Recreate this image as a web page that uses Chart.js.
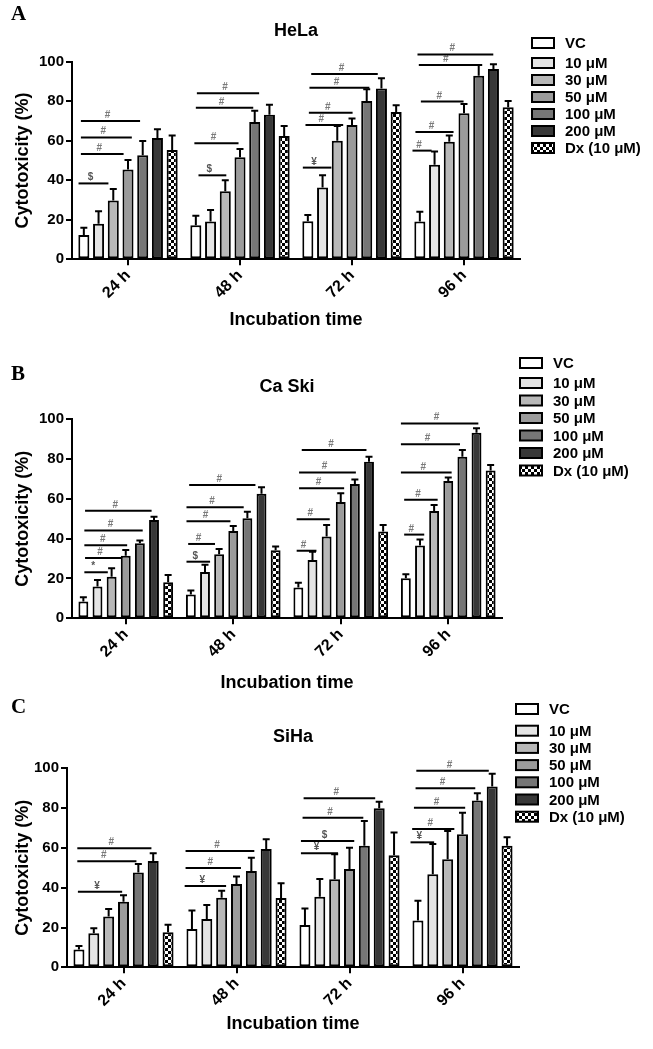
<!DOCTYPE html>
<html>
<head>
<meta charset="utf-8">
<script src="https://cdn.jsdelivr.net/npm/chart.js@4.4.1/dist/chart.umd.min.js"></script>
<style>
  body { margin: 0; background: #fff; width: 653px; height: 1049px; position: relative; overflow: hidden; }
  canvas { position: absolute; left: 0; }
</style>
</head>
<body>
<canvas id="chart-hela" width="653" height="340" style="top:0px"></canvas>
<canvas id="chart-caski" width="653" height="360" style="top:340px"></canvas>
<canvas id="chart-siha" width="653" height="359" style="top:690px"></canvas>
<script>
// categories and series
const times = ['24 h', '48 h', '72 h', '96 h'];
const seriesNames = ['VC', '10 μM', '30 μM', '50 μM', '100 μM', '200 μM', 'Dx (10 μM)'];
const yTicks = [0, 20, 40, 60, 80, 100];

// HeLa: one row per series (VC ... Dx), one column per time
const helaMean = [
  [12.3, 17.2, 19.2, 19.1],
  [18.0, 19.1, 36.3, 47.9],
  [29.8, 34.4, 60.0, 59.5],
  [45.5, 51.6, 68.0, 73.9],
  [52.6, 69.5, 80.1, 92.9],
  [61.4, 73.2, 86.5, 96.3],
  [55.3, 62.4, 74.5, 76.9]
];
const helaErr = [
  [3.7, 4.9, 3.2, 5.0],
  [6.3, 5.9, 6.2, 6.6],
  [5.8, 5.6, 7.5, 3.1],
  [4.8, 4.2, 3.2, 4.7],
  [7.3, 5.7, 5.9, 5.4],
  [4.4, 5.0, 5.1, 2.4],
  [7.4, 5.1, 3.4, 3.2]
];
// [time index, from series, to series, height, symbol]
const helaSig = [
  [0, -0.36, 1.67, 38.4, '$'], [0, -0.2, 2.7, 53.3, '#'], [0, -0.2, 3.26, 61.7, '#'], [0, -0.2, 3.82, 70, '#'],
  [1, 0.18, 2.07, 42.5, '$'], [1, -0.1, 2.9, 58.7, '#'], [1, 0, 3.9, 76.7, '#'], [1, 0.07, 4.3, 84, '#'],
  [2, -0.34, 1.6, 46.4, '¥'], [2, -0.16, 2.4, 68, '#'], [2, 0.07, 3.04, 74.2, '#'], [2, 0.11, 4.18, 86.8, '#'], [2, 0.23, 4.75, 93.8, '#'],
  [3, -0.5, 0.8, 55, '#'], [3, -0.3, 2.29, 64.4, '#'], [3, 0.07, 2.97, 79.8, '#'], [3, -0.07, 4.0, 98.3, '#'], [3, -0.16, 4.99, 103.7, '#']
];

// Ca Ski
const caskiMean = [
  [8.4, 12.0, 15.4, 20.1],
  [15.9, 23.2, 29.3, 36.5],
  [20.9, 32.1, 41.0, 53.8],
  [31.4, 43.8, 58.4, 68.9],
  [37.6, 50.2, 67.4, 81.1],
  [49.3, 62.5, 78.6, 93.1],
  [18.1, 34.1, 43.6, 74.1]
];
const caskiErr = [
  [2.1, 1.9, 2.5, 2.0],
  [3.3, 3.7, 4.1, 3.1],
  [4.2, 2.7, 5.8, 3.1],
  [2.9, 2.5, 4.3, 1.8],
  [1.4, 3.3, 2.3, 3.3],
  [1.7, 3.2, 2.5, 2.2],
  [3.6, 1.9, 3.2, 2.8]
];
const caskiSig = [
  [0, 0.07, 1.73, 23.1, '*'], [0, 0.12, 2.68, 30.3, '#'], [0, 0.07, 3.1, 36.6, '#'], [0, 0.07, 4.2, 44.1, '#'], [0, 0.12, 4.83, 54.0, '#'],
  [1, -0.31, 1.36, 28.4, '$'], [1, -0.19, 1.71, 37.3, '#'], [1, -0.31, 2.8, 48.7, '#'], [1, -0.31, 3.74, 55.7, '#'], [1, -0.12, 4.57, 66.9, '#'],
  [2, -0.12, 1.28, 33.9, '#'], [2, -0.12, 2.22, 49.7, '#'], [2, 0.05, 3.24, 65.2, '#'], [2, 0.05, 4.07, 73.2, '#'], [2, 0.24, 4.82, 84.4, '#'],
  [3, -0.12, 1.3, 42.0, '#'], [3, -0.12, 2.25, 59.5, '#'], [3, -0.35, 3.24, 73.1, '#'], [3, -0.35, 3.83, 87.3, '#'], [3, -0.35, 5.13, 97.8, '#']
];

// SiHa
const sihaMean = [
  [9.0, 19.3, 21.3, 23.5],
  [17.1, 24.3, 35.5, 46.7],
  [25.5, 35.0, 44.2, 54.3],
  [33.0, 41.9, 49.4, 66.8],
  [47.7, 48.4, 61.1, 83.8],
  [53.4, 59.5, 79.9, 90.8],
  [17.6, 34.8, 56.3, 61.1]
];
const sihaErr = [
  [1.7, 9.2, 8.3, 10.0],
  [2.5, 7.0, 8.9, 15.3],
  [3.8, 3.5, 12.6, 14.2],
  [3.2, 3.7, 10.7, 10.9],
  [4.2, 6.7, 12.4, 3.6],
  [3.9, 4.8, 3.3, 6.4],
  [3.8, 7.4, 11.4, 4.2]
];
const sihaSig = [
  [0, -0.07, 2.91, 38.0, '¥'], [0, -0.11, 3.87, 53.3, '#'], [0, -0.11, 4.88, 59.8, '#'],
  [1, -0.49, 2.3, 40.9, '¥'], [1, -0.43, 3.3, 49.9, '#'], [1, -0.43, 4.2, 58.5, '#'],
  [2, -0.27, 2.23, 57.3, '¥'], [2, -0.27, 3.32, 63.5, '$'], [2, -0.16, 3.93, 75.2, '#'], [2, -0.09, 4.73, 84.9, '#'],
  [3, -0.5, 1.09, 62.8, '¥'], [3, -0.39, 2.45, 69.5, '#'], [3, -0.27, 3.18, 80.2, '#'], [3, -0.16, 3.86, 90.0, '#'], [3, -0.11, 4.77, 98.8, '#']
];

const sansFont = 'Arial, "Liberation Sans", sans-serif';
const serifFont = '"Times New Roman", "Liberation Serif", serif';

function checkerPattern() {
    var c = document.createElement('canvas');
    c.width = 6;
    c.height = 6;
    var g = c.getContext('2d');
    g.fillStyle = '#000';
    g.fillRect(0, 0, 6, 6);
    g.fillStyle = '#fff';
    g.fillRect(0, 0, 3, 3);
    g.fillRect(3, 3, 3, 3);
    return g.createPattern(c, 'repeat');
}

const seriesColors = ['#ffffff', '#e4e4e4', '#b8b8b8', '#9b9b9b', '#767676', '#383838', checkerPattern()];

// x of a (possibly fractional) series slot inside one time group
function slotX(chart, cat, f) {
    var n = chart.data.datasets.length;
    var x0 = chart.getDatasetMeta(0).data[cat].x;
    var x1 = chart.getDatasetMeta(n - 1).data[cat].x;
    return x0 + f * (x1 - x0) / (n - 1);
}

const errorBars = {
    id: 'errorBars',
    afterDatasetsDraw: function(chart) {
        var ctx = chart.ctx;
        var yScale = chart.scales.y;
        ctx.save();
        ctx.strokeStyle = '#000';
        ctx.lineWidth = 2;
        chart.data.datasets.forEach(function(ds, i) {
            chart.getDatasetMeta(i).data.forEach(function(bar, j) {
                var top = yScale.getPixelForValue(ds.data[j] + ds.errors[j]);
                ctx.beginPath();
                ctx.moveTo(bar.x, bar.y);
                ctx.lineTo(bar.x, top);
                ctx.moveTo(bar.x - 3.5, top);
                ctx.lineTo(bar.x + 3.5, top);
                ctx.stroke();
            });
        });
        ctx.restore();
    }
};

const sigLines = {
    id: 'sigLines',
    afterDatasetsDraw: function(chart, args, opts) {
        var ctx = chart.ctx;
        var yScale = chart.scales.y;
        ctx.save();
        ctx.strokeStyle = '#000';
        ctx.lineWidth = 2;
        ctx.textAlign = 'center';
        ctx.textBaseline = 'alphabetic';
        (opts.items || []).forEach(function(s) {
            var xa = slotX(chart, s[0], s[1]);
            var xb = slotX(chart, s[0], s[2]);
            var y = yScale.getPixelForValue(s[3]);
            ctx.beginPath();
            ctx.moveTo(xa, y);
            ctx.lineTo(xb, y);
            ctx.stroke();
            ctx.fillStyle = s[4] === '#' ? '#7a7a7a' : '#555';
            ctx.font = 'bold 10px ' + sansFont;
            ctx.fillText(s[4], (xa + xb) / 2 - 3, y - 3);
        });
        ctx.restore();
    }
};

const sideLegend = {
    id: 'sideLegend',
    afterDraw: function(chart, args, opts) {
        var ctx = chart.ctx;
        ctx.save();
        ctx.font = 'bold 15px ' + sansFont;
        ctx.textBaseline = 'middle';
        ctx.textAlign = 'left';
        var y = opts.y;
        chart.data.datasets.forEach(function(ds, i) {
            ctx.fillStyle = ds.backgroundColor;
            ctx.fillRect(opts.x, y - 5, 22, 10);
            ctx.strokeStyle = '#000';
            ctx.lineWidth = 2;
            ctx.strokeRect(opts.x, y - 5, 22, 10);
            ctx.fillStyle = '#000';
            ctx.fillText(ds.label, opts.x + 33, y + 1);
            y += (i === 0) ? opts.firstGap : opts.gap;
        });
        // panel letter
        ctx.font = 'bold 21px ' + serifFont;
        ctx.textBaseline = 'alphabetic';
        ctx.fillText(opts.letter, 11, opts.letterY);
        ctx.restore();
    }
};

function createPanel(canvasId, cfg) {
    var datasets = seriesNames.map(function(name, i) {
        return {
            label: name,
            data: cfg.mean[i],
            errors: cfg.err[i],
            backgroundColor: seriesColors[i],
            borderColor: '#000',
            borderWidth: 2,
            borderSkipped: false,
            barPercentage: cfg.barPct,
            categoryPercentage: 0.92
        };
    });
    var ctx = document.getElementById(canvasId).getContext('2d');
    return new Chart(ctx, {
        type: 'bar',
        data: { labels: times, datasets: datasets },
        plugins: [errorBars, sigLines, sideLegend],
        options: {
            responsive: false,
            animation: false,
            layout: { padding: { left: 0, right: 653 - cfg.right, top: 0, bottom: 0 } },
            plugins: {
                legend: { display: false },
                tooltip: { enabled: false },
                title: {
                    display: true,
                    text: cfg.title,
                    fullSize: false,
                    color: '#000',
                    font: { size: 18, weight: 'bold' },
                    padding: { top: cfg.titleTop, bottom: cfg.top - cfg.titleTop - 21.6 }
                },
                sigLines: { items: cfg.sig },
                sideLegend: { x: cfg.legendX, y: cfg.legendY, firstGap: cfg.firstGap, gap: cfg.gap, letter: cfg.letter, letterY: cfg.letterY }
            },
            scales: {
                x: {
                    afterFit: function(scale) { scale.height = cfg.height - cfg.bottom; },
                    grid: { offset: false, drawOnChartArea: false, drawTicks: true, tickLength: 6, color: '#000', lineWidth: 2 },
                    border: { display: true, color: '#000', width: 2 },
                    ticks: { color: '#000', font: { size: 16, weight: 'bold' }, minRotation: 45, maxRotation: 45, padding: 1 },
                    title: {
                        display: true,
                        text: 'Incubation time',
                        color: '#000',
                        font: { size: 18, weight: 'bold' },
                        padding: { top: 0, bottom: cfg.xTitleBottom }
                    }
                },
                y: {
                    min: 0,
                    max: 100,
                    afterFit: function(scale) { scale.width = cfg.left; },
                    afterBuildTicks: function(scale) { scale.ticks = yTicks.map(function(v) { return { value: v }; }); },
                    grid: { drawOnChartArea: false, drawTicks: true, tickLength: 6, color: '#000', lineWidth: 2 },
                    border: { display: true, color: '#000', width: 2 },
                    ticks: { color: '#000', font: { size: 15, weight: 'bold' }, padding: 2 },
                    title: {
                        display: true,
                        text: 'Cytotoxicity (%)',
                        color: '#000',
                        font: { size: 18, weight: 'bold' },
                        padding: { top: 12, bottom: 0 }
                    }
                }
            }
        }
    });
}

Chart.defaults.font.family = sansFont;
Chart.defaults.color = '#000';

createPanel('chart-hela', {
    title: 'HeLa', mean: helaMean, err: helaErr, sig: helaSig, barPct: 0.75,
    height: 340, left: 72, right: 520, top: 61.7, bottom: 259.3, titleTop: 20.2, xTitleBottom: 9,
    legendX: 532, legendY: 43, firstGap: 20, gap: 17, letter: 'A', letterY: 20
});
createPanel('chart-caski', {
    title: 'Ca Ski', mean: caskiMean, err: caskiErr, sig: caskiSig, barPct: 0.7,
    height: 360, left: 72, right: 502, top: 79, bottom: 278.3, titleTop: 35.9, xTitleBottom: 6,
    legendX: 520, legendY: 23, firstGap: 20, gap: 17.5, letter: 'B', letterY: 40
});
createPanel('chart-siha', {
    title: 'SiHa', mean: sihaMean, err: sihaErr, sig: sihaSig, barPct: 0.74,
    height: 359, left: 67, right: 519, top: 78.3, bottom: 277.3, titleTop: 36.5, xTitleBottom: 14,
    legendX: 516, legendY: 19, firstGap: 21.7, gap: 17.2, letter: 'C', letterY: 23
});
</script>
</body>
</html>
